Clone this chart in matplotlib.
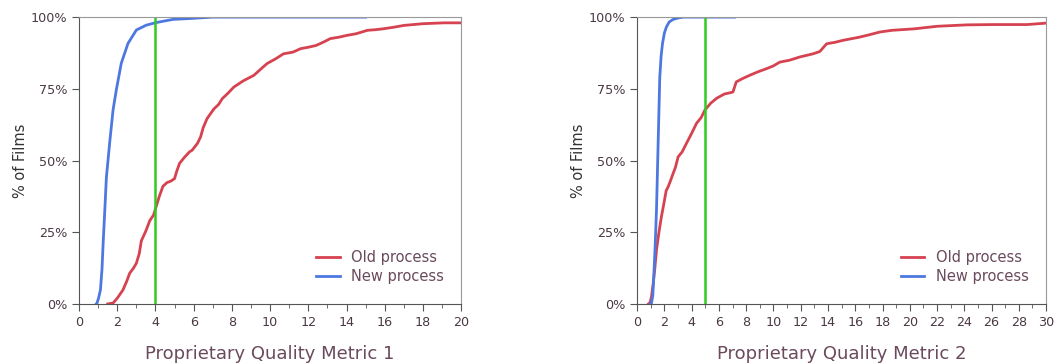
import numpy as np
import matplotlib
matplotlib.use("Agg")
from matplotlib import pyplot as plt
from matplotlib.ticker import MultipleLocator, PercentFormatter

# metric 1 curves (x = metric value, y = cumulative % of films)
new1_x = [0.9, 0.94, 1.02, 1.12, 1.2, 1.26, 1.35, 1.43, 1.6, 1.78, 1.95, 2.21, 2.56, 3.0, 3.52, 4.04, 4.91, 5.78, 7.0, 15.0]
new1_y = [0.0, 0.3, 2.0, 4.9, 12.0, 21.0, 33.0, 44.0, 56.0, 67.6, 74.6, 83.9, 90.8, 95.5, 97.2, 98.1, 99.2, 99.5, 100.0, 100.0]
old1_x = [1.5, 1.78, 2.0, 2.3, 2.5, 2.65, 2.85, 3.0, 3.15, 3.26, 3.5, 3.7, 3.9, 4.04, 4.2, 4.39, 4.6, 4.8, 5.0, 5.1,
          5.26, 5.5, 5.78, 5.92, 6.2, 6.36, 6.5, 6.7, 6.9, 7.06, 7.3, 7.5, 7.8, 8.1, 8.6, 9.15, 9.5, 9.84, 10.3, 10.7,
          11.2, 11.6, 12.0, 12.4, 12.8, 13.15, 13.6, 14.0, 14.5, 15.1, 15.5, 15.9, 16.5, 17.0, 17.5, 18.0, 19.1, 20.0]
old1_y = [0.0, 0.3, 2.0, 4.9, 8.0, 10.7, 12.5, 14.2, 17.5, 22.0, 25.5, 29.0, 31.0, 34.0, 37.5, 41.0, 42.3, 42.8, 43.7, 46.0,
          49.0, 51.0, 53.0, 53.6, 56.0, 58.2, 61.5, 64.6, 66.5, 68.0, 69.5, 71.6, 73.5, 75.6, 77.8, 79.7, 81.8, 83.8, 85.5, 87.2,
          87.8, 89.0, 89.5, 90.1, 91.3, 92.5, 93.0, 93.6, 94.2, 95.4, 95.6, 95.9, 96.5, 97.1, 97.4, 97.7, 98.0, 98.0]

# metric 2 curves
new2_x = [0.95, 1.05, 1.15, 1.22, 1.32, 1.42, 1.54, 1.66, 1.76, 1.86, 2.0, 2.15, 2.35, 2.64, 3.0, 3.38, 7.15]
new2_y = [0.0, 0.2, 3.0, 9.5, 20.0, 32.8, 56.0, 79.0, 86.5, 90.8, 94.5, 96.6, 98.3, 99.2, 99.7, 100.0, 100.0]
old2_x = [0.83, 0.95, 1.05, 1.18, 1.3, 1.42, 1.6, 1.78, 2.0, 2.13, 2.28, 2.45, 2.64, 2.8, 3.01, 3.3, 3.62, 4.0, 4.36,
          4.7, 4.97, 5.4, 5.83, 6.4, 6.8, 7.03, 7.27, 7.7, 8.25, 8.9, 9.48, 10.0, 10.46, 11.2, 11.93, 12.9, 13.4, 13.9,
          14.5, 15.1, 16.3, 17.0, 17.8, 18.7, 20.3, 22.0, 24.2, 26.1, 28.6, 30.0]
old2_y = [0.0, 0.5, 2.5, 7.2, 12.5, 18.8, 25.0, 30.4, 36.0, 39.5, 40.9, 43.0, 45.5, 47.5, 51.3, 53.0, 56.0, 59.5, 63.0,
          65.0, 67.6, 70.0, 71.7, 73.2, 73.6, 73.9, 77.4, 78.5, 79.7, 81.0, 82.0, 83.0, 84.3, 85.0, 86.1, 87.2, 88.0, 90.7,
          91.2, 91.9, 93.0, 93.8, 94.8, 95.4, 95.9, 96.8, 97.3, 97.4, 97.4, 97.9]

cutoffs = [4, 5]
xmaxs = [20, 30]
xlabels = ["Proprietary Quality Metric 1", "Proprietary Quality Metric 2"]

red = "#d6424f"
blue = "#4d78e0"
green = "#2ecc1f"
txt = "#4a3844"
lbl = "#6a4a5c"

fig = plt.figure(figsize=(10.54, 3.64), dpi=100)
rects = [[0.075, 0.165, 0.3625, 0.788], [0.6045, 0.165, 0.388, 0.788]]
data = [(old1_x, old1_y, new1_x, new1_y), (old2_x, old2_y, new2_x, new2_y)]

for i in range(2):
    ax = fig.add_axes(rects[i])
    ox, oy, nx, ny = data[i]
    ax.plot(ox, oy, color=red, lw=2, label="Old process")
    ax.plot(nx, ny, color=blue, lw=2, label="New process")
    ax.axvline(cutoffs[i], color=green, lw=1.8)
    ax.set_xlim(0, xmaxs[i])
    ax.set_ylim(0, 100)
    ax.xaxis.set_major_locator(MultipleLocator(2))
    ax.xaxis.set_minor_locator(MultipleLocator(1))
    ax.yaxis.set_major_locator(MultipleLocator(25))
    ax.yaxis.set_major_formatter(PercentFormatter(decimals=0))
    ax.tick_params(which="major", length=5, color="#555555", labelsize=9.2, labelcolor=txt)
    ax.tick_params(which="minor", length=3, color="#555555")
    for s in ["left", "bottom"]:
        ax.spines[s].set_color("#555555")
    for s in ["top", "right"]:
        ax.spines[s].set_color("#999999")
    ax.set_xlabel(xlabels[i], fontsize=13, color=lbl, labelpad=12)
    ax.set_ylabel("% of Films", fontsize=10.5, color="#333333", labelpad=2)
    leg = ax.legend(loc="lower right", bbox_to_anchor=(0.99, 0.025), frameon=False, fontsize=10.5,
                    handlelength=1.6, handletextpad=0.8, labelspacing=0.25)
    for t in leg.get_texts():
        t.set_color(lbl)

fig.savefig("out.png", dpi=100)
